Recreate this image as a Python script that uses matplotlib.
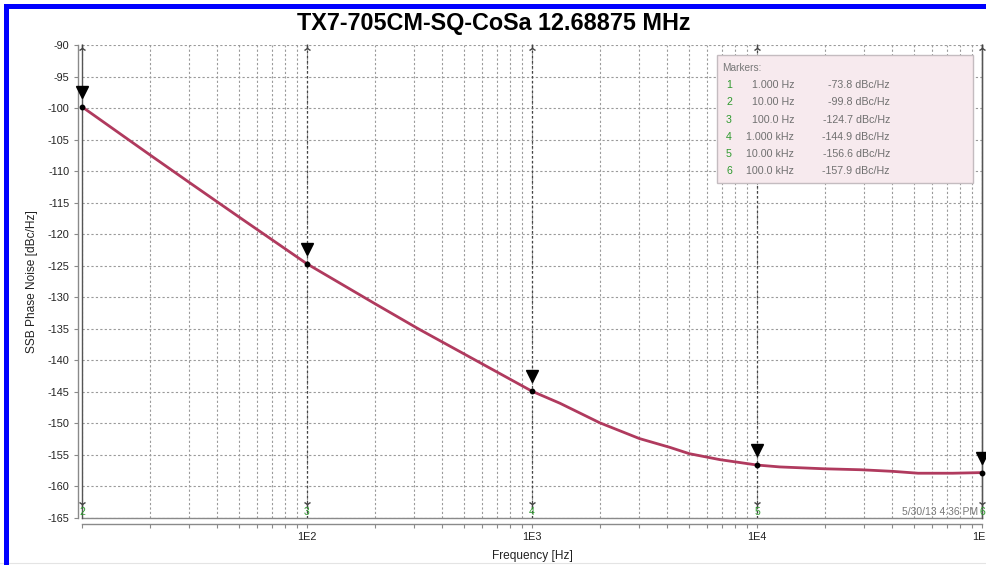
import numpy as np
import matplotlib.pyplot as plt
from matplotlib import transforms
from matplotlib.patches import Rectangle
from matplotlib.lines import Line2D

plt.rcParams['font.family'] = ['Liberation Sans', 'DejaVu Sans']
plt.rcParams['axes.unicode_minus'] = False

# phase noise curve
freq_hz = [10, 20, 30, 50, 100, 200, 316, 500, 1000, 1330, 2000, 3000, 4100,
           5000, 6850, 10000, 12600, 20000, 29000, 40000, 52000, 74000, 100000]
ssb_dbc = [-99.8, -107.4, -111.8, -117.3, -124.7, -131.0, -135.1, -139.0,
           -144.9, -146.8, -149.9, -152.4, -153.8, -154.8, -155.75, -156.6,
           -156.9, -157.2, -157.35, -157.6, -157.9, -157.9, -157.8]

# marker table
marker_ids = ['1', '2', '3', '4', '5', '6']
marker_freq = [1, 10, 100, 1000, 10000, 100000]
marker_freq_txt = ['1.000 Hz', '10.00 Hz', '100.0 Hz', '1.000 kHz', '10.00 kHz', '100.0 kHz']
marker_dbc = [-73.8, -99.8, -124.7, -144.9, -156.6, -157.9]

x_ticks = [10, 100, 1000, 10000, 100000]
x_ticklabels = ['', '1E2', '1E3', '1E4', '1E5']

W, H = 986, 565
fig = plt.figure(figsize=(W / 100, H / 100), dpi=100)
ax = fig.add_axes([82 / W, 1 - 518 / H, 900 / W, 473 / H])

gray = '#8a8a8a'
green = '#2e9a2e'
ax.set_xscale('log')
ax.set_xlim(10, 1e5)
ax.set_ylim(-165, -90)
ax.set_yticks(np.arange(-165, -89, 5))
ax.set_xticks(x_ticks)
ax.set_xticklabels(x_ticklabels)
ax.xaxis.set_minor_locator(plt.matplotlib.ticker.LogLocator(base=10, subs=range(2, 10)))
ax.xaxis.set_minor_formatter(plt.NullFormatter())
ax.tick_params(axis='both', which='both', length=3, width=0.8, color=gray,
               labelsize=7.8, labelcolor='#222222', pad=3)
ax.grid(True, which='both', color='#9a9a9a', linestyle=(0, (2, 2)), linewidth=0.8)

ax.spines['top'].set_visible(False)
ax.spines['left'].set_position(('outward', 3))
ax.spines['bottom'].set_position(('outward', 4))
for s in ['left', 'bottom', 'right']:
    ax.spines[s].set_color(gray)
    ax.spines[s].set_linewidth(1.0)
ax.axhline(-165, color=gray, lw=1.0, zorder=2, clip_on=False)

# marker lines
xt = ax.get_xaxis_transform()
for mid, f in zip(marker_ids, marker_freq):
    if f < 10:
        continue
    if f in (10, 100000):
        ax.axvline(f, color='#555555', lw=1.0, zorder=3, clip_on=False)
    else:
        ax.axvline(f, color='#444444', lw=0.9, ls=(0, (2, 2)), zorder=3)
    ax.plot([f], [0.993], marker='2', ms=6, color='#444444', transform=xt, clip_on=False, zorder=5)
    ax.plot([f], [0.030], marker='1', ms=6, color='#444444', transform=xt, clip_on=False, zorder=5)
    ax.text(f, 0.013, mid, transform=xt, color=green, fontsize=7.5,
            ha='center', va='center', zorder=6)

ax.plot(freq_hz, ssb_dbc, color='#b03a5e', lw=2.0, zorder=4, clip_on=False)

tri_tr = transforms.offset_copy(ax.transData, fig=fig, x=0, y=15, units='dots')
for f, v in zip(marker_freq, marker_dbc):
    if f < 10:
        continue
    ax.plot([f], [v], 'o', color='black', ms=3.2, zorder=6, clip_on=False)
    ax.plot([f], [v], 'v', color='black', ms=8, transform=tri_tr, zorder=6, clip_on=False)

ax.set_xlabel('Frequency [Hz]', fontsize=8.6, color='#222222')
ax.set_ylabel('SSB Phase Noise [dBc/Hz]', fontsize=8.6, color='#222222')
ax.xaxis.set_label_coords(0.5, (518 - 550) / 473)
ax.yaxis.set_label_coords((38 - 82) / 900, 0.5)

fig.text(494 / W, 1 - 30 / H, 'TX7-705CM-SQ-CoSa 12.68875 MHz', fontsize=16.8,
         fontweight='bold', ha='center', va='baseline')
fig.text(978 / W, 1 - 512 / H, '5/30/13 4:36 PM', fontsize=7.5, color='#777777',
         ha='right', va='center')

# marker box
fig.add_artist(Rectangle((717 / W, 1 - 183 / H), 256 / W, 128 / H, transform=fig.transFigure,
                         facecolor='#f7eaee', edgecolor='#c4bcc0', lw=1.0, zorder=10))
fig.text(722 / W, 1 - 68 / H, 'Markers:', fontsize=7.3, color='#777777', ha='left',
         va='center', zorder=11)
for i, (mid, ft, v) in enumerate(zip(marker_ids, marker_freq_txt, marker_dbc)):
    yy = 1 - (85 + i * 17.3) / H
    fig.text(729 / W, yy, mid, fontsize=7.7, color=green, ha='center', va='center', zorder=11)
    fig.text(794 / W, yy, ft, fontsize=7.7, color='#707070', ha='right', va='center', zorder=11)
    fig.text(890 / W, yy, '%.1f dBc/Hz' % v, fontsize=7.7, color='#707070', ha='right',
             va='center', zorder=11)

# blue frame
fig.add_artist(Rectangle((4 / W, 0), 5 / W, 1 - 4 / H, transform=fig.transFigure,
                         facecolor='#0000ff', edgecolor='none', zorder=12))
fig.add_artist(Rectangle((4 / W, 1 - 9 / H), 1, 5 / H, transform=fig.transFigure,
                         facecolor='#0000ff', edgecolor='none', zorder=12))
fig.add_artist(Line2D([0, 1], [2 / H, 2 / H], transform=fig.transFigure,
                      color='#e4e4e4', lw=0.8))

fig.savefig('out.png', dpi=100)
